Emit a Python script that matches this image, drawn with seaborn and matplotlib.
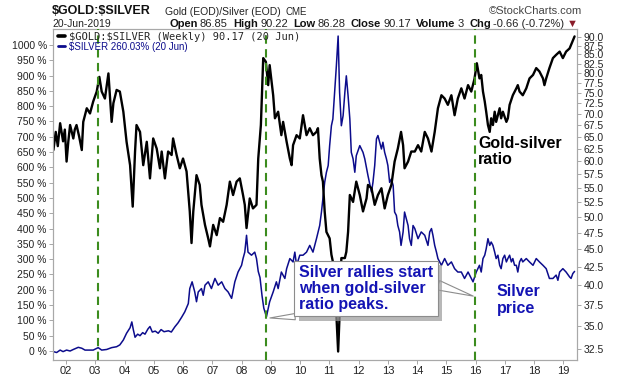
import numpy as np
import pandas as pd
import seaborn as sns
import matplotlib.pyplot as plt
import matplotlib.patheffects as pe
from matplotlib.ticker import FixedLocator, NullLocator

# gold:silver ratio, weekly (right log axis)
ratio_year = [2001.57, 2001.65, 2001.72, 2001.80, 2001.90, 2001.96,
              2002.02, 2002.08, 2002.14, 2002.25, 2002.30, 2002.36, 2002.45, 2002.54, 2002.59, 2002.71, 2002.82, 2002.93,
              2003.05, 2003.14, 2003.22, 2003.33, 2003.45, 2003.56, 2003.62, 2003.73, 2003.84, 2003.96,
              2004.07, 2004.19, 2004.28, 2004.36, 2004.41, 2004.53, 2004.64, 2004.76, 2004.87, 2004.98,
              2005.10, 2005.21, 2005.27, 2005.38, 2005.49, 2005.61, 2005.66, 2005.78, 2005.89,
              2006.00, 2006.12, 2006.23, 2006.29, 2006.35, 2006.46, 2006.57, 2006.63, 2006.75, 2006.86, 2006.92,
              2007.03, 2007.15, 2007.26, 2007.37, 2007.49, 2007.60, 2007.71, 2007.83, 2007.94,
              2008.05, 2008.11, 2008.17, 2008.28, 2008.39, 2008.51, 2008.57, 2008.66, 2008.74, 2008.83, 2008.91, 2008.96,
              2009.08, 2009.14, 2009.25, 2009.36, 2009.42, 2009.54, 2009.65, 2009.71, 2009.76, 2009.88, 2009.99,
              2010.10, 2010.22, 2010.33, 2010.44, 2010.56, 2010.61, 2010.67, 2010.73, 2010.78, 2010.84, 2010.90,
              2011.01, 2011.07, 2011.12, 2011.18, 2011.24, 2011.30, 2011.35, 2011.41, 2011.53, 2011.58, 2011.64, 2011.70, 2011.81, 2011.92,
              2012.04, 2012.15, 2012.27, 2012.32, 2012.44, 2012.55, 2012.66, 2012.78, 2012.89,
              2013.00, 2013.12, 2013.23, 2013.34, 2013.45, 2013.52, 2013.57, 2013.69, 2013.80, 2013.92,
              2014.03, 2014.14, 2014.26, 2014.37, 2014.49, 2014.60, 2014.71, 2014.83, 2014.94,
              2015.05, 2015.17, 2015.28, 2015.39, 2015.51, 2015.62, 2015.74, 2015.85, 2015.96,
              2016.04, 2016.13, 2016.19, 2016.25, 2016.31, 2016.36, 2016.42, 2016.48, 2016.53, 2016.59, 2016.65, 2016.70, 2016.82, 2016.87, 2016.93,
              2017.05, 2017.10, 2017.16, 2017.27, 2017.39, 2017.44, 2017.50, 2017.61, 2017.73, 2017.84, 2017.96,
              2018.07, 2018.18, 2018.30, 2018.35, 2018.41, 2018.52, 2018.64, 2018.75, 2018.87, 2018.98,
              2019.09, 2019.21, 2019.26, 2019.38]
ratio_val = [62.2, 66.0, 63.0, 67.9, 64.0, 66.5,
             59.9, 64.0, 67.5, 64.6, 66.5, 67.5, 65.0, 62.2, 68.2, 71.3, 70.1, 72.9,
             75.3, 79.0, 75.3, 73.6, 79.9, 68.2, 72.5, 75.7, 75.3, 70.5,
             63.9, 59.2, 51.7, 61.9, 67.5, 66.0, 59.2, 63.9, 56.7, 64.6,
             62.5, 58.6, 61.9, 56.7, 61.9, 61.2, 64.6, 61.2, 58.6,
             60.5, 58.0, 50.9, 45.9, 50.9, 57.3, 55.5, 52.0, 48.7, 46.6, 45.4,
             48.7, 47.1, 49.8, 49.2, 52.0, 56.1, 53.7, 56.1, 56.7,
             53.7, 52.0, 48.2, 53.1, 51.4, 52.0, 60.5, 67.5, 84.0, 83.0, 76.9, 82.1,
             74.4, 69.0, 70.5, 65.3, 68.2, 63.9, 60.5, 59.2, 63.2, 65.3, 64.6,
             69.7, 65.3, 66.8, 65.3, 66.0, 66.8, 60.5, 57.3, 56.1, 50.9, 47.6,
             46.6, 44.2, 43.2, 37.9, 36.3, 32.2, 36.3, 43.7, 43.7, 44.6, 47.6, 53.7, 52.5, 56.1,
             53.7, 50.9, 53.1, 55.5, 54.9, 52.0, 53.7, 54.9, 51.4,
             53.7, 55.5, 59.9, 62.5, 66.0, 63.2, 58.6, 59.9, 61.9, 61.9,
             63.2, 61.9, 66.0, 64.6, 61.9, 66.0, 71.3, 74.4, 73.6,
             72.1, 74.4, 69.7, 73.6, 76.1, 73.6, 76.9, 75.3, 78.5,
             82.6, 78.6, 79.5, 75.3, 72.9, 70.5, 67.5, 66.0, 69.0, 67.5, 70.5, 68.2, 71.3, 69.0, 70.5,
             68.2, 69.0, 72.1, 74.4, 76.1, 76.9, 75.3, 74.4, 76.1, 78.6, 79.5,
             81.3, 80.4, 78.6, 76.9, 78.6, 81.3, 84.0, 84.9, 85.8, 84.0,
             85.8, 86.7, 87.7, 90.17]

# silver, % change since mid-2001 (left axis)
silver_year = [2001.57, 2001.68, 2001.80, 2001.90,
               2002.02, 2002.14, 2002.25, 2002.42, 2002.54, 2002.65, 2002.76, 2002.93,
               2003.10, 2003.22, 2003.39, 2003.56, 2003.73, 2003.84, 2003.96,
               2004.07, 2004.19, 2004.25, 2004.30, 2004.36, 2004.45, 2004.53, 2004.62, 2004.70, 2004.80, 2004.87, 2004.95,
               2005.05, 2005.15, 2005.25, 2005.35, 2005.50, 2005.60, 2005.72, 2005.83, 2005.95,
               2006.06, 2006.18, 2006.23, 2006.31, 2006.40, 2006.46, 2006.52, 2006.63, 2006.69, 2006.75, 2006.86, 2006.97,
               2007.09, 2007.20, 2007.32, 2007.43, 2007.54, 2007.66, 2007.77, 2007.88,
               2008.00, 2008.05, 2008.11, 2008.17, 2008.22, 2008.34, 2008.45, 2008.51, 2008.57, 2008.63, 2008.70, 2008.76, 2008.85, 2008.96,
               2009.08, 2009.19, 2009.25, 2009.36, 2009.48, 2009.54, 2009.65, 2009.76, 2009.82, 2009.88, 2009.99,
               2010.10, 2010.22, 2010.33, 2010.44, 2010.56, 2010.67, 2010.73, 2010.78, 2010.84, 2010.90, 2010.96,
               2011.01, 2011.07, 2011.12, 2011.18, 2011.24, 2011.30, 2011.35, 2011.41, 2011.47, 2011.53, 2011.58, 2011.64, 2011.70, 2011.75, 2011.81, 2011.87, 2011.92,
               2012.04, 2012.15, 2012.21, 2012.32, 2012.44, 2012.49, 2012.55, 2012.61, 2012.66, 2012.78, 2012.83, 2012.89, 2012.95,
               2013.00, 2013.06, 2013.12, 2013.18, 2013.23, 2013.29, 2013.34, 2013.40, 2013.45, 2013.52, 2013.57, 2013.63, 2013.69, 2013.74, 2013.80, 2013.86, 2013.92,
               2014.03, 2014.14, 2014.26, 2014.37, 2014.43, 2014.49, 2014.54, 2014.60, 2014.66, 2014.71, 2014.83, 2014.94,
               2015.05, 2015.17, 2015.28, 2015.39, 2015.51, 2015.62, 2015.74, 2015.85, 2015.91,
               2016.02, 2016.13, 2016.19, 2016.25, 2016.31, 2016.36, 2016.42, 2016.48, 2016.53, 2016.59, 2016.65, 2016.70, 2016.76, 2016.82, 2016.87, 2016.93, 2016.99,
               2017.05, 2017.10, 2017.16, 2017.22, 2017.27, 2017.33, 2017.39, 2017.44, 2017.50, 2017.56, 2017.61, 2017.73, 2017.84, 2017.96,
               2018.07, 2018.18, 2018.30, 2018.41, 2018.52, 2018.64, 2018.75, 2018.81, 2018.87, 2018.98,
               2019.09, 2019.21, 2019.26, 2019.32, 2019.38]
silver_pct = [-2, -5, 3, -2,
              3, 0, 5, 12, 9, 3, 3, 3,
              11, 3, 5, 11, 14, 20, 36,
              58, 76, 95, 70, 45, 55, 50, 60, 55, 72, 80, 62,
              65, 58, 70, 63, 66, 62, 79, 92, 110,
              128, 155, 204, 226, 193, 161, 193, 204, 182, 215, 226, 204,
              237, 215, 226, 204, 193, 172, 226, 258,
              280, 302, 323, 378, 323, 313, 323, 302, 260, 240, 180, 140, 112, 161,
              193, 226, 204, 258, 237, 269, 302, 291, 323, 280, 313,
              313, 323, 345, 323, 367, 410, 454, 497, 551, 584, 606,
              671, 736, 758, 845, 932, 1029, 845, 736, 769, 845, 899, 834, 758, 649, 628, 584, 638,
              671, 649, 628, 573, 519, 551, 606, 693, 704, 660, 682, 649, 628,
              606, 551, 562, 541, 454, 443, 410, 389, 345, 389, 454, 432, 410, 367, 345, 410, 400,
              367, 389, 378, 345, 389, 400, 378, 345, 323, 302, 280, 302,
              280, 291, 269, 258, 258, 237, 258, 237, 226,
              258, 280, 258, 302, 313, 334, 367, 345, 356, 345, 323, 302, 313, 280, 269, 302, 313,
              291, 302, 313, 291, 302, 280, 280, 258, 291, 302, 291, 302, 291, 280,
              302, 291, 280, 269, 237, 237, 248, 231, 258, 269,
              258, 242, 237, 253, 260.03]

# ratio peaks marked with green dashed lines
peak_years = [2003.11, 2008.83, 2015.97]

year_ticks = list(range(2002, 2020))
year_labels = [f"{y % 100:02d}" for y in year_ticks]
pct_ticks = list(range(0, 1001, 50))
ratio_ticks = [32.5 + 2.5 * i for i in range(24)]

assert len(ratio_year) == len(ratio_val)
assert len(silver_year) == len(silver_pct)

sns.set_style("white")
plt.rcParams["font.family"] = ["Liberation Sans", "DejaVu Sans"]

W, H = 620, 376
fig = plt.figure(figsize=(W / 100, H / 100), dpi=100)
ax = fig.add_axes([53 / W, 16 / H, 524 / W, 331 / H])
ax2 = ax.twinx()
ax2.patch.set_visible(False)

silver_df = pd.DataFrame({"year": silver_year, "pct": silver_pct})
ratio_df = pd.DataFrame({"year": ratio_year, "ratio": ratio_val})

NAVY = "#0c0c8c"
sns.lineplot(data=silver_df, x="year", y="pct", ax=ax, color=NAVY, lw=1.1,
             estimator=None, sort=False, label=r"\$SILVER 260.03% (20 Jun)", legend=False)
sns.lineplot(data=ratio_df, x="year", y="ratio", ax=ax2, color="black", lw=1.7,
             estimator=None, sort=False, label=r"\$GOLD:\$SILVER (Weekly) 90.17 (20 Jun)", legend=False)

for yr in peak_years:
    ax2.axvline(yr, color="#3c8c1e", lw=1.5, ls=(0, (4, 2.6)), zorder=5)

# axes
ax.set_xlim(2001.556, 2019.463)
ax.set_ylim(-29.4, 1052)
ax2.set_yscale("log")
ax2.set_ylim(31.32, 92.38)

ax.set_xticks(year_ticks)
ax.set_xticklabels(year_labels)
ax.set_yticks(pct_ticks)
ax.set_yticklabels([f"{v} %" for v in pct_ticks])
ax2.yaxis.set_major_locator(FixedLocator(ratio_ticks))
ax2.yaxis.set_minor_locator(NullLocator())
ax2.set_yticklabels([f"{v:.1f}" for v in ratio_ticks])
for a in (ax, ax2):
    a.set_xlabel("")
    a.set_ylabel("")
    for s in a.spines.values():
        s.set_color("#a8a8a8")
        s.set_linewidth(0.8)
ax.tick_params(axis="y", labelsize=7.5, length=3, width=0.6, color="#999999", pad=1.5, labelcolor="#222222", left=True)
ax.tick_params(axis="x", labelsize=8, length=3, width=0.6, color="#999999", pad=1.5, labelcolor="#222222", bottom=True)
ax2.tick_params(axis="y", labelsize=7.5, length=3, width=0.6, color="#999999", pad=1.5, labelcolor="#222222", right=True)

# legend
handles = [ax2.lines[0], ax.lines[0]]
leg = ax2.legend(handles, [h.get_label() for h in handles], loc="upper left",
                 bbox_to_anchor=(0.004, 1.0), frameon=False, prop={"size": 7.5},
                 handlelength=0.7, handletextpad=0.35, borderaxespad=0.1,
                 borderpad=0.15, labelspacing=0.05)
leg.set_zorder(20)
leg.get_lines()[0].set_linewidth(2.6)
leg.get_lines()[1].set_linewidth(2.0)
t0, t1 = leg.get_texts()
t0.set_fontfamily("DejaVu Sans Mono")
t0.set_fontsize(7.5)
t1.set_fontsize(7)
t1.set_color(NAVY)

# annotations
BLUE_TXT = "#1414b4"
wedge = dict(arrowstyle="wedge,tail_width=0.45,shrink_factor=0.5", fc="white",
             ec="#8c8c8c", lw=0.8, shrinkA=0, shrinkB=0)
ax2.annotate("", xy=(0.414, 0.127), xytext=(0.462, 0.131), xycoords="axes fraction",
             arrowprops=wedge, zorder=10)
ax2.annotate("", xy=(0.802, 0.193), xytext=(0.735, 0.226), xycoords="axes fraction",
             arrowprops=dict(wedge, arrowstyle="wedge,tail_width=0.7,shrink_factor=0.5"), zorder=10)
box = ax2.text(0.598, 0.216, "Silver rallies start\nwhen gold-silver\nratio peaks.",
               transform=ax2.transAxes, ha="center", va="center", multialignment="left",
               fontsize=11.5, fontweight="bold", color=BLUE_TXT, linespacing=1.05, zorder=11,
               bbox=dict(boxstyle="square,pad=0.3", fc="white", ec="#8c8c8c", lw=0.8))
box.get_bbox_patch().set_path_effects([pe.withSimplePatchShadow(offset=(3, -3), shadow_rgbFace="#9a9a9a", alpha=0.7)])

ax2.text(0.811, 0.631, "Gold-silver\nratio", transform=ax2.transAxes, ha="left", va="center",
         fontsize=11.5, fontweight="bold", color="black", linespacing=1.1, zorder=11)
ax2.text(0.847, 0.181, "Silver\nprice", transform=ax2.transAxes, ha="left", va="center",
         fontsize=11.5, fontweight="bold", color=BLUE_TXT, linespacing=1.1, zorder=11)

# header
renderer = fig.canvas.get_renderer()


def text_row(pieces, x, y, size):
    for s, weight, color, gap in pieces:
        t = fig.text(x / W, 1 - y / H, s, fontsize=size, fontweight=weight, color=color, va="center")
        x = t.get_window_extent(renderer).x1 + gap


fig.text(52 / W, 1 - 11 / H, r"\$GOLD:\$SILVER", fontsize=9, fontweight="bold",
         va="center", color="#111111")
fig.text(165 / W, 1 - 12 / H, "Gold (EOD)/Silver (EOD)", fontsize=7.5, va="center", color="#222222")
fig.text(286 / W, 1 - 12 / H, "CME", fontsize=7, va="center", color="#222222")
fig.text(582 / W, 1 - 11 / H, "\u00a9StockCharts.com", fontsize=8, va="center", ha="right", color="#444444")
fig.text(52 / W, 1 - 24 / H, "20-Jun-2019", fontsize=7.5, va="center", color="#222222")
text_row([("Open", "bold", "#111111", 2.5), ("86.85", "normal", "#222222", 5),
          ("High", "bold", "#111111", 2.5), ("90.22", "normal", "#222222", 5),
          ("Low", "bold", "#111111", 2.5), ("86.28", "normal", "#222222", 5),
          ("Close", "bold", "#111111", 2.5), ("90.17", "normal", "#222222", 5),
          ("Volume", "bold", "#111111", 2.5), ("3", "normal", "#222222", 5),
          ("Chg", "bold", "#111111", 2.5), ("-0.66 (-0.72%)", "normal", "#222222", 2),
          ("\u25bc", "normal", "#8a1c2a", 0)], 169, 24, 8)

fig.savefig("out.png", dpi=100)
